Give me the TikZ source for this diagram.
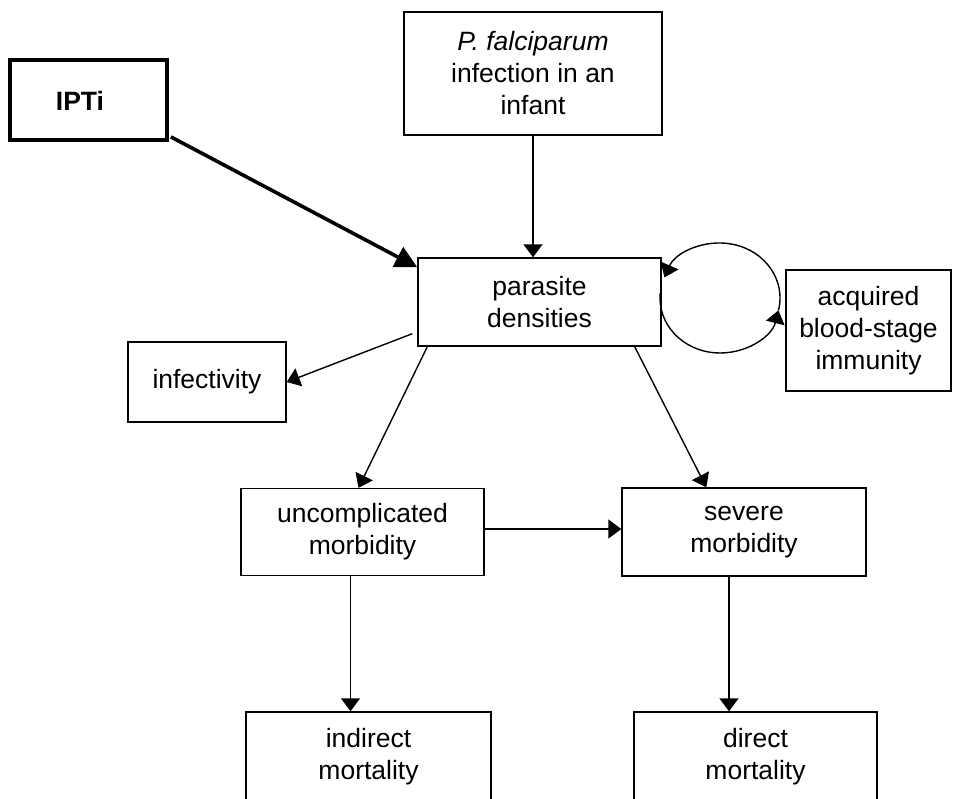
\documentclass[tikz,border=0pt]{standalone}
\usepackage{fontspec}
\setmainfont{Liberation Sans}
\usetikzlibrary{arrows.meta,calc}
\begin{document}
\begin{tikzpicture}[x=1pt,y=-1pt,
  box/.style={draw, line width=1.4pt, align=center, inner sep=0pt,
    font=\fontsize{26.5}{32}\selectfont},
  arr/.style={line width=1.4pt, -{Triangle[length=13pt,width=19pt]}},
  thickarr/.style={line width=3.6pt, -{Triangle[length=22pt,width=22pt]}}]
\useasboundingbox (0,0) rectangle (953,798);
\clip (0,0) rectangle (953,798);
% nodes
\node[box, line width=3.8pt, minimum width=157pt, minimum height=80pt] (ipti) at (88.5,100) {};
\node[font=\fontsize{26.5}{32}\selectfont\bfseries] (iptitxt) at (80,101) {IPTi};
\node[box, minimum width=258pt, minimum height=123pt] (pf) at (533,73.5) {\textit{P. falciparum}\\infection in an\\infant};
\node[box, minimum width=243pt, minimum height=88pt] (par) at (539.5,302) {parasite\\densities};
\node[box, minimum width=165pt, minimum height=121pt] (acq) at (868.5,330.5) {acquired\\blood-stage\\immunity};
\node[box, minimum width=158pt, minimum height=80pt] (inf) at (207,382) {infectivity};
\node[box, minimum width=243pt, minimum height=87pt] (unc) at (362.5,532) {uncomplicated\\morbidity};
\node[box, minimum width=244pt, minimum height=88pt] (sev) at (744,532) {severe\\morbidity};
\node[box, minimum width=245pt, minimum height=90pt] (ind) at (368.5,757) {indirect\\mortality};
\node[box, minimum width=243pt, minimum height=90pt] (dir) at (755.5,757) {direct\\mortality};
% connectors
\draw[arr] (pf.south) -- (pf.south |- par.north);
\draw[thickarr] ($(ipti.south east)+(2,-5)$) -- ($(par.north west)+(0,10)$);
\draw[arr] ($(par.south west)+(-5,-13)$) -- (inf.east);
\draw[arr] ($(par.south west)+(10,0)$) -- ($(unc.north)+(-4,0)$);
\draw[arr] ($(par.south east)+(-27,0)$) -- ($(sev.north west)+(85,0)$);
\draw[arr] ($(unc.east)+(0,-3)$) -- ($(sev.west)+(0,-3)$);
\coordinate (ua) at ($(unc.south)+(-12,0)$);
\draw[arr] (ua) -- (ua |- ind.north);
\coordinate (sa) at ($(sev.south)+(-15,0)$);
\draw[arr] (sa) -- (sa |- dir.north);
% feedback loop
\coordinate (lc) at (720,298);
\draw[arr] ($(lc)+(58.5,12.4)$) arc[start angle=13, end angle=-158, x radius=60, y radius=55];
\draw[arr] ($(lc)+(-59.8,-4.8)$) arc[start angle=185, end angle=13, x radius=60, y radius=55];
\end{tikzpicture}
\end{document}
